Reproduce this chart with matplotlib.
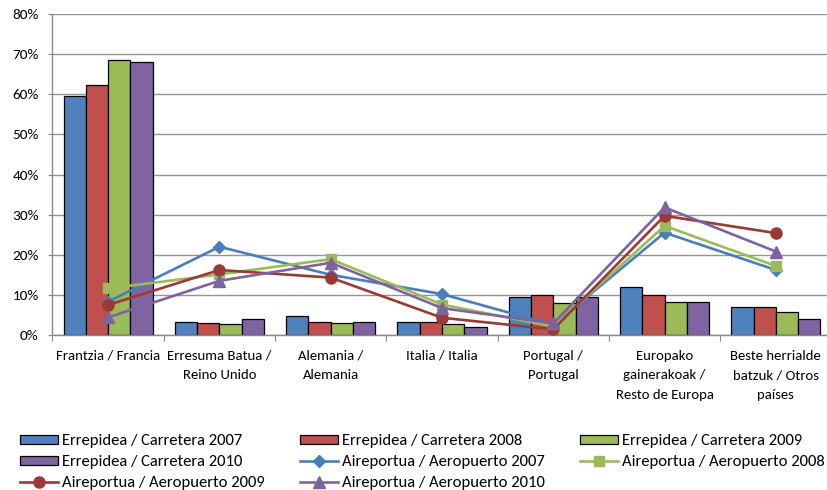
import matplotlib
matplotlib.use("Agg")
import matplotlib.pyplot as plt
from matplotlib import font_manager as fm
from matplotlib.patches import Patch
from matplotlib.lines import Line2D
import numpy as np

categories = ["Frantzia / Francia", "Erresuma Batua /\nReino Unido", "Alemania /\nAlemania",
              "Italia / Italia", "Portugal /\nPortugal", "Europako\ngainerakoak /\nResto de Europa",
              "Beste herrialde\nbatzuk / Otros\npaíses"]

road_2007 = [59.5, 3.3, 4.8, 3.3, 9.4, 11.9, 6.9]
road_2008 = [62.3, 3.1, 3.3, 3.3, 10.0, 10.0, 6.9]
road_2009 = [68.6, 2.7, 3.1, 2.7, 7.9, 8.3, 5.8]
road_2010 = [68.0, 4.1, 3.3, 2.0, 9.4, 8.3, 4.1]

air_2007 = [8.3, 22.0, 15.0, 10.2, 2.5, 25.5, 16.2]
air_2008 = [11.6, 15.1, 18.9, 7.6, 2.1, 27.2, 17.2]
air_2009 = [7.5, 16.2, 14.3, 4.3, 1.4, 29.7, 25.4]
air_2010 = [4.4, 13.5, 18.0, 6.7, 2.9, 31.8, 20.8]

road_labels = ["Errepidea / Carretera 2007", "Errepidea / Carretera 2008",
               "Errepidea / Carretera 2009", "Errepidea / Carretera 2010"]
air_labels = ["Aireportua / Aeropuerto 2007", "Aireportua / Aeropuerto 2008",
              "Aireportua / Aeropuerto 2009", "Aireportua / Aeropuerto 2010"]

yticks = [0, 10, 20, 30, 40, 50, 60, 70, 80]

names = {f.name for f in fm.fontManager.ttflist}
font = "DejaVu Sans"
for cand in ["Carlito", "Liberation Sans Narrow", "Open Sans", "Liberation Sans"]:
    if cand in names:
        font = cand
        break
plt.rcParams['font.family'] = [font, 'DejaVu Sans']

bar_colors = ["#4F81BD", "#C0504D", "#9BBB59", "#8064A2"]
line_colors = ["#4A7EBB", "#9BBB59", "#9A3A37", "#7F63A1"]
markers = ["D", "s", "o", "^"]
msizes = [6, 7.5, 8, 8]

W, H = 828, 490
fig = plt.figure(figsize=(W / 100, H / 100), dpi=100)
ax = fig.add_axes([52.5 / W, (H - 335) / H, 779 / W, 321 / H])

x = np.arange(len(categories))
bw = 0.2
roads = [road_2007, road_2008, road_2009, road_2010]
airs = [air_2007, air_2008, air_2009, air_2010]
for i, vals in enumerate(roads):
    ax.bar(x + (i - 1.5) * bw, vals, width=bw, color=bar_colors[i], edgecolor="black",
           linewidth=0.9, zorder=2)
for i, vals in enumerate(airs):
    ax.plot(x, vals, color=line_colors[i], lw=1.9, marker=markers[i], ms=msizes[i],
            zorder=3, clip_on=False)

ax.set_xlim(-0.5, len(categories) - 0.5)
ax.set_ylim(0, 80)
ax.set_yticks(yticks)
ax.set_yticklabels([f"{v}%" for v in yticks], fontsize=11)
ax.yaxis.grid(True, color="#959595", lw=1.0, zorder=0)
ax.set_axisbelow(True)

ax.set_xticks(np.arange(len(categories) + 1) - 0.5)
ax.set_xticklabels([])
ax.set_xticks(x, minor=True)
ax.set_xticklabels(categories, minor=True, fontsize=10.6, linespacing=1.75)
ax.tick_params(axis="x", which="minor", length=0, pad=10.5)
ax.tick_params(axis="x", which="major", length=4, color="#888888", direction="out")
ax.tick_params(axis="y", length=3, color="#888888", pad=7)

for s in ["top", "right"]:
    ax.spines[s].set_visible(False)
for s in ["left", "bottom"]:
    ax.spines[s].set_color("#888888")
    ax.spines[s].set_linewidth(1.0)

road_h = [Patch(facecolor=bar_colors[i], edgecolor="black", linewidth=0.9, label=road_labels[i]) for i in range(4)]
air_h = [Line2D([], [], color=line_colors[i], lw=1.9, marker=markers[i], ms=msizes[i], label=air_labels[i]) for i in range(4)]
allh = road_h + air_h
cols = [[allh[0], allh[3], allh[6]], [allh[1], allh[4], allh[7]], [allh[2], allh[5]]]
xs = [20, 300, 580]
for cx, hs in zip(xs, cols):
    fig.legend(handles=hs, loc="upper left", bbox_to_anchor=(cx / W, 1 - 434 / H),
               frameon=False, fontsize=12, handlelength=2.3, handleheight=0.45,
               handletextpad=0.25, labelspacing=0.42, borderaxespad=0, borderpad=0)

fig.savefig("out.png", dpi=100)
